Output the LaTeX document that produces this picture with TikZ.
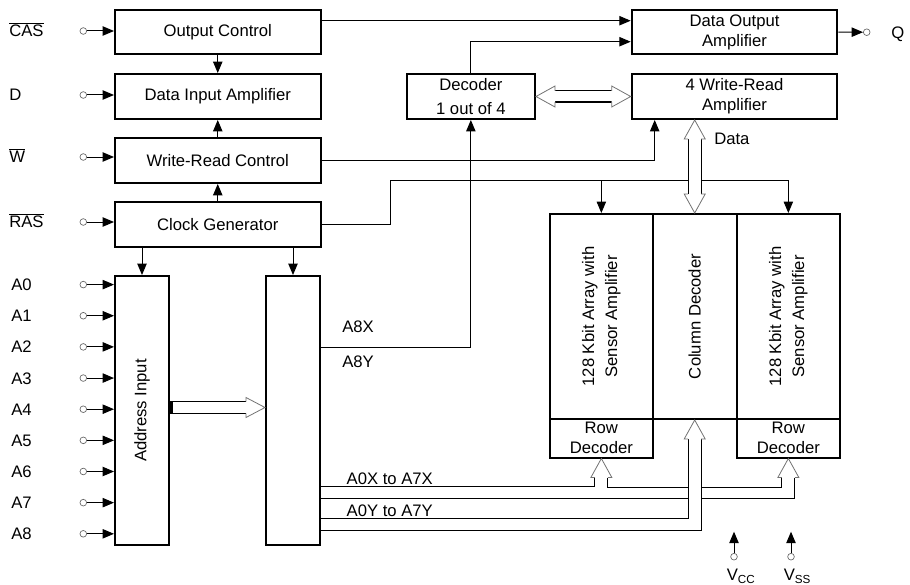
\documentclass[tikz,border=0pt]{standalone}
\usepackage{fontspec}
\setmainfont{Liberation Sans}
\usetikzlibrary{arrows.meta,calc}
\newcommand\blk[6]{\node[box, minimum width={(#4-#2)*0.75pt}, minimum height={(#5-#3)*0.75pt}] (#1) at ({(#2+#4)/2},{(#3+#5)/2}) {#6};}
\newcommand\uphead[1]{%
  \fill[white] ($(#1)+(-6.5,19)$) -- ($(#1)+(-10.5,19)$) -- (#1) -- ($(#1)+(10.5,19)$) -- ($(#1)+(6.5,19)$) -- cycle;
  \draw[wide] ($(#1)+(-6.5,19)$) -- ($(#1)+(-10.5,19)$) -- (#1) -- ($(#1)+(10.5,19)$) -- ($(#1)+(6.5,19)$);}
\newcommand\downhead[1]{%
  \fill[white] ($(#1)+(-6.5,-19)$) -- ($(#1)+(-10.5,-19)$) -- (#1) -- ($(#1)+(10.5,-19)$) -- ($(#1)+(6.5,-19)$) -- cycle;
  \draw[wide] ($(#1)+(-6.5,-19)$) -- ($(#1)+(-10.5,-19)$) -- (#1) -- ($(#1)+(10.5,-19)$) -- ($(#1)+(6.5,-19)$);}
\newcommand\lefthead[1]{%
  \fill[white] ($(#1)+(19,-5.5)$) -- ($(#1)+(19,-10.5)$) -- (#1) -- ($(#1)+(19,10.5)$) -- ($(#1)+(19,5.5)$) -- cycle;
  \draw[wide] ($(#1)+(19,-5.5)$) -- ($(#1)+(19,-10.5)$) -- (#1) -- ($(#1)+(19,10.5)$) -- ($(#1)+(19,5.5)$);}
\newcommand\righthead[1]{%
  \fill[white] ($(#1)+(-19,-5.5)$) -- ($(#1)+(-19,-10.5)$) -- (#1) -- ($(#1)+(-19,10.5)$) -- ($(#1)+(-19,5.5)$) -- cycle;
  \draw[wide] ($(#1)+(-19,-5.5)$) -- ($(#1)+(-19,-10.5)$) -- (#1) -- ($(#1)+(-19,10.5)$) -- ($(#1)+(-19,5.5)$);}
\begin{document}
\begin{tikzpicture}[x=0.75pt,y=-0.75pt,
  font=\fontsize{12.5}{15}\selectfont,
  box/.style={draw, line width=1.5pt, inner sep=0pt, align=center},
  conn/.style={line width=0.75pt},
  arr/.style={conn, -{Triangle[length=8.5pt,width=7pt]}},
  pin/.style={circle, draw=black!60, line width=0.5pt, inner sep=0pt, minimum size=5pt},
  lbl/.style={anchor=base west, inner sep=0pt},
  wide/.style={line width=0.6pt, draw=black!55},
  shaft/.style={line width=0.75pt},
  vtext/.style={rotate=90, align=center, inner sep=0pt}]
\useasboundingbox (0,0) rectangle (910,585);

% ---------- boxes ----------
\blk{oc}{115}{10}{320.5}{54.5}{Output Control}
\blk{dia}{115}{74}{320.5}{119}{Data Input Amplifier}
\blk{wrc}{115}{138}{320.5}{183}{Write-Read Control}
\blk{cg}{115}{202}{320.5}{247}{Clock Generator}
\blk{doa}{631.7}{10}{837.3}{54.3}{Data Output\\Amplifier}
\blk{dec}{406.7}{74}{535}{119}{Decoder\\[2.5pt]1 out of 4}
\blk{wra}{631.7}{74}{837.3}{119}{4 Write-Read\\Amplifier}
\blk{ai}{115}{276}{169}{545}{}
\blk{ab}{266}{276}{320}{545}{}
\blk{arrL}{550}{214}{652.7}{419}{}
\blk{col}{652.7}{214}{736.7}{419}{}
\blk{arrR}{736.7}{214}{840}{419}{}
\blk{rdL}{550}{419}{652.7}{457.5}{Row\\Decoder}
\blk{rdR}{736.7}{419}{840}{457.5}{Row\\Decoder}
\node[vtext] (tai) at (ai.center) {Address Input};
\node[vtext] (tarrL) at (arrL.center) {128 Kbit Array with\\[2.3pt]Sensor Amplifier};
\node[vtext] (tcol) at (col.center) {Column Decoder};
\node[vtext] (tarrR) at (arrR.center) {128 Kbit Array with\\[2.3pt]Sensor Amplifier};

% ---------- control inputs ----------
\node[pin] (pcas) at (83.3,31) {};
\node[pin] (pd) at (83.3,95) {};
\node[pin] (pw) at (83.3,157) {};
\node[pin] (pras) at (83.3,222) {};
\node[lbl] (lcas) at (9,36.7) {$\overline{\mbox{CAS}}$};
\node[lbl] (ld) at (9,100.5) {D};
\node[lbl] (lw) at (9,162.5) {$\overline{\mbox{W}}$};
\node[lbl] (lras) at (9,227.5) {$\overline{\mbox{RAS}}$};
\draw[arr] (pcas) -- (pcas -| oc.west);
\draw[arr] (pd) -- (pd -| dia.west);
\draw[arr] (pw) -- (pw -| wrc.west);
\draw[arr] (pras) -- (pras -| cg.west);

% ---------- address inputs ----------
\foreach \i in {0,...,8} {
  \node[pin] (pa\i) at (83.3,{284.6+31.15*\i}) {};
  \node[lbl] (la\i) at (11,{290.6+31.15*\i}) {A\i};
  \draw[arr] (pa\i) -- (pa\i -| ai.west);
}

% ---------- left column arrows ----------
\draw[arr] (oc.south) -- (dia.north);
\draw[arr] (wrc.north) -- (dia.south);
\draw[arr] (cg.north) -- (wrc.south);
\draw[arr] (cg.south -| ai.north) -- (ai.north);
\draw[arr] (cg.south -| ab.north) -- (ab.north);

% ---------- top connections ----------
\coordinate (y1) at (0,20.7);
\coordinate (y2) at (0,41.7);
\draw[arr] (oc.east |- y1) -- (doa.west |- y1);
\draw[arr] (dec.north) |- (doa.west |- y2);
\node[pin] (pq) at (866.7,32.2) {};
\draw[arr] (doa.east) -- (pq);
\node[lbl] (lq) at (891,38.3) {Q};

\coordinate (wx) at ($(wra.south west)+(24,0)$);
\draw[arr] (wrc.east) -| (wx);

\coordinate (y8) at (0,347.3);
\draw[arr] (ab.east |- y8) -| (dec.south);
\node[lbl] (la8x) at (342,332.8) {A8X};
\node[lbl] (la8y) at (342,367) {A8Y};

% clock bus
\coordinate (bus) at (390.7,180);
\draw[conn] (cg.east) -| (bus) -- (bus -| arrR.north);
\draw[arr] (bus -| arrL.north) -- (arrL.north);
\draw[arr] (bus -| arrR.north) -- (arrR.north);

% data double arrow (vertical)
\coordinate (dtop) at (col.north |- wra.south);
\coordinate (dbot) at (col.north);
\fill[white] ($(dtop)+(-6.5,19)$) rectangle ($(dbot)+(6.5,-19)$);
\draw[shaft] ($(dtop)+(-6.5,19)$) -- ($(dbot)+(-6.5,-19)$) ($(dtop)+(6.5,19)$) -- ($(dbot)+(6.5,-19)$);
\uphead{dtop}
\downhead{dbot}
\node[lbl] (ldata) at (714,144.3) {Data};

% decoder <-> write-read amplifier
\coordinate (hl) at (dec.east);
\coordinate (hr) at (wra.west |- dec.east);
\draw[shaft] ($(hl)+(19,-5.5)$) -- ($(hr)+(-19,-5.5)$) ($(hl)+(19,5.5)$) -- ($(hr)+(-19,5.5)$);
\lefthead{hl}
\righthead{hr}

% address input -> address buffer
\coordinate (aw) at (0,407.5);
\draw[shaft] (ai.east |- aw) ++(0,-5.8) -- ($(ab.west |- aw)+(-19,-5.8)$);
\draw[shaft] (ai.east |- aw) ++(0,5.8) -- ($(ab.west |- aw)+(-19,5.8)$);
\fill (ai.east |- aw) ++(0,-5.8) rectangle ++(2.5,11.6);
\coordinate (awt) at (ab.west |- aw);
\fill[white] ($(awt)+(-19,-5.3)$) -- ($(awt)+(-19,-10)$) -- (awt) -- ($(awt)+(-19,10)$) -- ($(awt)+(-19,5.3)$) -- cycle;
\draw[wide] ($(awt)+(-19,-5.8)$) -- ($(awt)+(-19,-10)$) -- (awt) -- ($(awt)+(-19,10)$) -- ($(awt)+(-19,5.8)$);

% ---------- address buses ----------
\coordinate (b1) at (0,486.7);
\coordinate (b2) at (0,498.3);
\coordinate (b3) at (0,518.3);
\coordinate (b4) at (0,530);
\draw[conn] (ab.east |- b1) -| ($(rdL.south)+(-6.5,19)$);
\draw[conn] ($(rdL.south)+(6.5,19)$) |- ($(rdR.south)+(-6.5,29.2)$) -- ($(rdR.south)+(-6.5,19)$);
\draw[conn] (ab.east |- b2) -| ($(rdR.south)+(6.5,19)$);
\fill[white] ($(col.south)+(-6,19)$) rectangle ($(col.south)+(6,99)$);
\draw[conn] (ab.east |- b3) -| ($(col.south)+(-6.5,19)$);
\draw[conn] (ab.east |- b4) -| ($(col.south)+(6.5,19)$);
\uphead{rdL.south}
\uphead{rdR.south}
\uphead{col.south}
\node[lbl] (lx) at (346.4,484.3) {A0X to A7X};
\node[lbl] (ly) at (346.4,516.3) {A0Y to A7Y};

% ---------- supply ----------
\node[pin] (pvcc) at (734,556.7) {};
\node[pin] (pvss) at (791,556.7) {};
\coordinate (tvcc) at (734,531.7);
\coordinate (tvss) at (791,531.7);
\draw[arr] (pvcc) -- (tvcc);
\draw[arr] (pvss) -- (tvss);
\node[lbl] (lvcc) at (726.5,580.5) {V\textsubscript{CC}};
\node[lbl] (lvss) at (783.5,580.5) {V\textsubscript{SS}};
\end{tikzpicture}
\end{document}
